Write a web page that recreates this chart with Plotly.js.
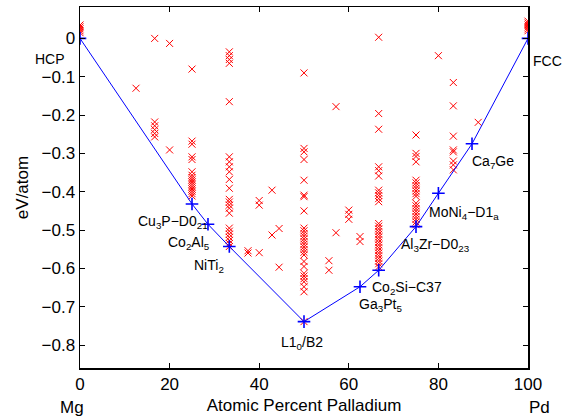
<!DOCTYPE html>
<html>
<head>
<meta charset="utf-8">
<script src="https://cdn.plot.ly/plotly-3.0.1.min.js"></script>
<style>html,body{margin:0;padding:0;background:#fff;}#chart{width:562px;height:419px;}</style>
</head>
<body>
<div id="chart"></div>
<script>
// ---- data: formation energies of candidate structures (eV/atom) by composition ----
const col0 = [0.035, 0.03, 0.025, 0.02, 0.015];
const col12 = [-0.13];
const col17 = [0.0, -0.218, -0.228, -0.238, -0.248, -0.257];
const col20 = [-0.013, -0.291];
const col25 = [-0.08, -0.268, -0.276, -0.309, -0.316, -0.348, -0.357, -0.363, -0.369, -0.375, -0.381, -0.387, -0.393, -0.399, -0.405, -0.411];
const col33 = [-0.035, -0.045, -0.055, -0.065, -0.165, -0.309, -0.322, -0.335, -0.348, -0.368, -0.391, -0.42, -0.427, -0.435, -0.443, -0.456, -0.495, -0.503, -0.511, -0.519, -0.527, -0.535, -0.543];
const col37 = [-0.554, -0.56];
const col40 = [-0.423, -0.435, -0.559];
const col43 = [-0.396, -0.513];
const col44 = [-0.496, -0.597];
const col50 = [-0.09, -0.287, -0.296, -0.316, -0.37, -0.409, -0.413, -0.45, -0.495, -0.502, -0.509, -0.516, -0.523, -0.53, -0.537, -0.544, -0.551, -0.558, -0.565, -0.582, -0.595, -0.613, -0.62, -0.627, -0.635, -0.648, -0.661, -0.739];
const col56 = [-0.58, -0.605];
const col57 = [-0.178, -0.507];
const col60 = [-0.448, -0.459, -0.472];
const col62 = [-0.517, -0.53];
const col67 = [0.003, -0.196, -0.237, -0.335, -0.345, -0.359, -0.396, -0.403, -0.41, -0.418, -0.426, -0.483, -0.49, -0.497, -0.504, -0.511, -0.518, -0.525, -0.532, -0.539, -0.546, -0.553, -0.56, -0.567, -0.574, -0.581, -0.588, -0.596];
const col75 = [-0.252, -0.3, -0.308, -0.322, -0.37, -0.377, -0.384, -0.391, -0.398, -0.405, -0.412, -0.43, -0.437, -0.444, -0.451, -0.458, -0.465, -0.472, -0.479, -0.486];
const col80 = [-0.045];
const col83 = [-0.115, -0.176, -0.255, -0.291, -0.296, -0.32, -0.33, -0.343];
const col89 = [-0.219];
const col100 = [0.045, 0.04, 0.035, 0.03, 0.025, 0.02];

const compositions = [0, 12.5, 16.67, 20, 25, 33.33, 37.5, 40, 42.86, 44.44, 50, 55.56, 57.14, 60, 62.5, 66.67, 75, 80, 83.33, 88.89, 100];
const energyColumns = [col0, col12, col17, col20, col25, col33, col37, col40, col43, col44, col50, col56, col57, col60, col62, col67, col75, col80, col83, col89, col100];

// convex hull (ground states)
const hullX = [0, 25, 28.57, 33.33, 50, 62.5, 66.67, 75, 80, 87.5, 100];
const hullY = [0, -0.432, -0.485, -0.543, -0.739, -0.648, -0.605, -0.491, -0.404, -0.275, 0];
const hullLabels = ['HCP', 'Cu<sub>3</sub>P\u2212D0<sub>21</sub>', 'Co<sub>2</sub>Al<sub>5</sub>', 'NiTi<sub>2</sub>',
  'L1<sub>0</sub>/B2', 'Ga<sub>3</sub>Pt<sub>5</sub>', 'Co<sub>2</sub>Si\u2212C37', 'Al<sub>3</sub>Zr\u2212D0<sub>23</sub>',
  'MoNi<sub>4</sub>\u2212D1<sub>a</sub>', 'Ca<sub>7</sub>Ge', 'FCC'];

const xTicks = [0, 20, 40, 60, 80, 100];
const yTicks = [0, -0.1, -0.2, -0.3, -0.4, -0.5, -0.6, -0.7, -0.8];
const yTickText = ['0', '\u22120.1', '\u22120.2', '\u22120.3', '\u22120.4', '\u22120.5', '\u22120.6', '\u22120.7', '\u22120.8'];

// ---- build traces ----
const ptsX = [], ptsY = [];
compositions.forEach((c, i) => energyColumns[i].forEach(v => { ptsX.push(c); ptsY.push(v); }));

const FONT = 'Liberation Sans, Arial, Helvetica, sans-serif';

const traces = [
  {x: ptsX, y: ptsY, type: 'scatter', mode: 'markers', hoverinfo: 'x+y',
   marker: {symbol: 'x-thin-open', size: 7, color: '#ff0000', line: {color: '#ff0000', width: 1}}},
  {x: hullX, y: hullY, type: 'scatter', mode: 'lines+markers',
   line: {color: '#0000ff', width: 1},
   marker: {symbol: 'cross-thin-open', size: 9, color: '#0000ff', line: {color: '#0000ff', width: 1.6}}}
];

// label offsets (pixels) relative to each hull point: [xshift, yshift, xanchor, font size]
const labelOffsets = [[-13, -21, 'right', 14], [18, -18, 'right', 14], [4, -19, 'right', 14], [-3, -19, 'right', 14],
  [-2, -21, 'center', 14], [-3, -18, 'left', 14], [-9, -18, 'left', 14], [-17, -18, 'left', 14],
  [-11, -20, 'left', 14], [-2, -18, 'left', 14], [3, -23, 'left', 14]];

const annotations = hullLabels.map((t, i) => ({
  x: hullX[i], y: hullY[i], xref: 'x', yref: 'y', text: t, showarrow: false,
  xanchor: labelOffsets[i][2], yanchor: 'middle', xshift: labelOffsets[i][0], yshift: labelOffsets[i][1],
  font: {family: FONT, size: labelOffsets[i][3], color: '#000'}
}));
annotations.push({x: 0, y: 0, xref: 'x', yref: 'paper', text: 'Mg', showarrow: false,
  xanchor: 'center', yanchor: 'middle', xshift: -8, yshift: -39, font: {family: FONT, size: 17, color: '#000'}});
annotations.push({x: 100, y: 0, xref: 'x', yref: 'paper', text: 'Pd', showarrow: false,
  xanchor: 'center', yanchor: 'middle', xshift: 11, yshift: -39, font: {family: FONT, size: 17, color: '#000'}});

const layout = {
  width: 562, height: 419,
  margin: {l: 80, r: 34, t: 7, b: 51},
  paper_bgcolor: '#fff', plot_bgcolor: '#fff',
  showlegend: false,
  font: {family: FONT, size: 17, color: '#000'},
  xaxis: {
    range: [0, 100], tickvals: xTicks, ticks: 'inside', ticklen: 5, tickwidth: 1, tickcolor: '#000',
    showline: true, linecolor: '#000', linewidth: 1.5, mirror: 'ticks', showgrid: false, zeroline: false,
    tickfont: {family: FONT, size: 17, color: '#000'},
    title: {text: 'Atomic Percent Palladium', font: {family: FONT, size: 17, color: '#000'}, standoff: 6}
  },
  yaxis: {
    range: [-0.86, 0.082], tickvals: yTicks, ticktext: yTickText, ticks: 'inside', ticklen: 5, tickwidth: 1, tickcolor: '#000',
    showline: true, linecolor: '#000', linewidth: 1.5, mirror: 'ticks', showgrid: false, zeroline: false,
    tickfont: {family: FONT, size: 17, color: '#000'},
    title: {text: 'eV/atom', font: {family: FONT, size: 17, color: '#000'}, standoff: 8}
  },
  annotations: annotations
};

Plotly.newPlot('chart', traces, layout, {displayModeBar: false, staticPlot: true});
</script>
</body>
</html>
